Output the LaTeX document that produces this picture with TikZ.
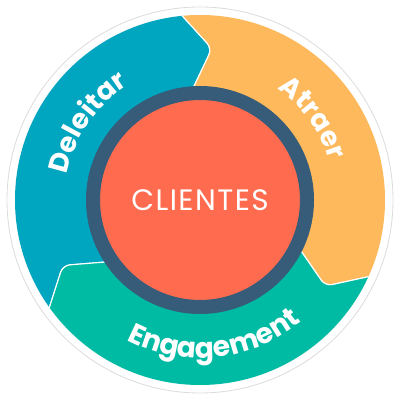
\documentclass[tikz,border=0pt]{standalone}
\usepackage{fontspec}
\setmainfont{Poppins}
\usetikzlibrary{calc,decorations.text}
\definecolor{calypso}{HTML}{00A5BF}
\definecolor{marigold}{HTML}{FDB95B}
\definecolor{oz}{HTML}{00BBA3}
\definecolor{coral}{HTML}{FF6B4F}
\definecolor{slate}{HTML}{365C7A}
\definecolor{rim}{HTML}{DDDDDD}

\begin{document}
\begin{tikzpicture}[seg/.style = {draw=white, line width=0.8pt, rounded corners=5pt},
  hub/.style = {circle, fill=coral, draw=slate, line width=0.35cm, minimum size=5.35cm}]
  \useasboundingbox (-5,-5) rectangle (5,5);
  \draw[rim, fill=white, line width=0.6pt] (0,0) circle (4.825);
  % arrow tips of the three phases
  \coordinate (t1) at (85.5:3.8);
  \coordinate (t2) at (-34.5:3.8);
  \coordinate (t3) at (205.5:3.8);
  \coordinate (o1) at ($(t1)!2!(95.5:4.625)$);
  \coordinate (o2) at ($(t2)!2!(-24.5:4.625)$);
  \coordinate (o3) at ($(t3)!2!(215.5:4.625)$);
  \coordinate (i1) at ($(t1)!1.5!(93:2.85)$);
  \coordinate (i2) at ($(t2)!1.5!(-27:2.85)$);
  \coordinate (i3) at ($(t3)!1.5!(213:2.85)$);
  \begin{scope}
    \clip (0,0) circle (4.625);
    \filldraw[seg, fill=calypso] (0,0) -- (i3) -- (t3) -- (o3) -- (155:9) -- (o1) -- (t1) -- (i1) -- cycle;
    \filldraw[seg, fill=marigold] (0,0) -- (i1) -- (t1) -- (o1) -- (35:9) -- (o2) -- (t2) -- (i2) -- cycle;
    \filldraw[seg, fill=oz] (0,0) -- (i2) -- (t2) -- (o2) -- (-85:9) -- (o3) -- (t3) -- (i3) -- cycle;
  \end{scope}
  \node[hub] (clientes) at (0,0) {};
  \node[text=white, font=\fontsize{21}{21}\selectfont\addfontfeature{LetterSpace=5}] (name) at (clientes) {CLIENTES};
  % labels along the ring
  \path[decorate, decoration={text along path, text align=center, text color=white,
    text={|\bfseries\fontsize{19.5}{19.5}\selectfont|Atraer}}]
    (76:3.38) arc[start angle=76, end angle=-4, radius=3.38];
  \path[decorate, decoration={text along path, text align=center, text color=white,
    text={|\bfseries\fontsize{19.5}{19.5}\selectfont|Deleitar}}]
    (185.5:3.38) arc[start angle=185.5, end angle=105.5, radius=3.38];
  \path[decorate, decoration={text along path, text align=center, text color=white,
    text={|\bfseries\fontsize{20}{20}\selectfont|Engagement}}]
    (-144:3.95) arc[start angle=-144, end angle=-24, radius=3.95];
\end{tikzpicture}
\end{document}
